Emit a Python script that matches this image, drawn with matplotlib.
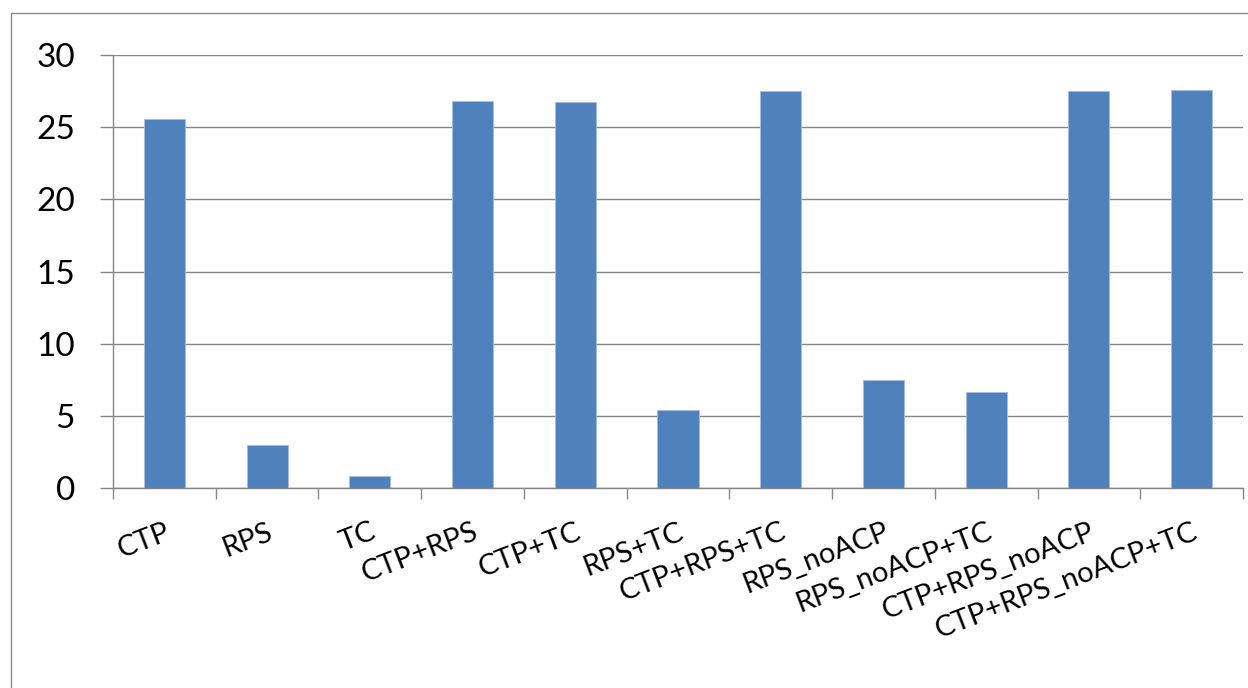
import numpy as np
import matplotlib.pyplot as plt
from matplotlib.patches import Rectangle
from matplotlib.ticker import FixedLocator

CATEGORIES = [
    "CTP",
    "RPS",
    "TC",
    "CTP+RPS",
    "CTP+TC",
    "RPS+TC",
    "CTP+RPS+TC",
    "RPS_noACP",
    "RPS_noACP+TC",
    "CTP+RPS_noACP",
    "CTP+RPS_noACP+TC",
]
VALUES = [25.6, 3.0, 0.85, 26.8, 26.75, 5.4, 27.5, 7.45, 6.65, 27.5, 27.55]
Y_TICKS = [0, 5, 10, 15, 20, 25, 30]

BAR_COLOR = "#4F81BD"
GRID_COLOR = "#868686"

plt.rcParams["font.family"] = ["Lato", "DejaVu Sans"]


def main() -> None:
    fig = plt.figure(figsize=(12.48, 6.88), dpi=100)

    # Marco exterior del gráfico (cortado a la derecha y abajo)
    frame = Rectangle(
        (11 / 1248, -0.05),
        1.2,
        1 - 13 / 688 + 0.05,
        transform=fig.transFigure,
        fill=False,
        edgecolor="#8c8c8c",
        linewidth=1.0,
    )
    fig.patches.append(frame)

    ax = fig.add_axes([113 / 1248, 1 - 488 / 688, 1130 / 1248, 433 / 688])

    x = np.arange(len(CATEGORIES))
    ax.bar(x, VALUES, width=0.4, color=BAR_COLOR, edgecolor="#a7bfde",
           linewidth=0.6, zorder=3)

    ax.set_xlim(-0.5, len(CATEGORIES) - 0.5)
    ax.set_ylim(0, 30)

    ax.set_yticks(Y_TICKS)
    ax.set_yticklabels([str(v) for v in Y_TICKS], fontsize=24)
    ax.grid(axis="y", color=GRID_COLOR, linewidth=1.0, zorder=0)

    ax.set_xticks(x)
    ax.set_xticklabels(CATEGORIES, fontsize=21, rotation=21, ha="right",
                       va="top", rotation_mode="anchor")
    ax.xaxis.set_minor_locator(FixedLocator(np.arange(-0.5, len(CATEGORIES), 1.0)))

    ax.tick_params(axis="x", which="major", length=0, pad=22)
    ax.tick_params(axis="x", which="minor", length=8, width=1.0,
                   color=GRID_COLOR, direction="out")
    ax.tick_params(axis="y", length=9.5, width=1.0, color=GRID_COLOR,
                   pad=18)

    for side in ["top", "right"]:
        ax.spines[side].set_visible(False)
    for side in ["left", "bottom"]:
        ax.spines[side].set_color(GRID_COLOR)
        ax.spines[side].set_linewidth(1.0)
        ax.spines[side].set_zorder(4)

    fig.savefig("out.png", dpi=100)
    plt.close(fig)


if __name__ == "__main__":
    main()
